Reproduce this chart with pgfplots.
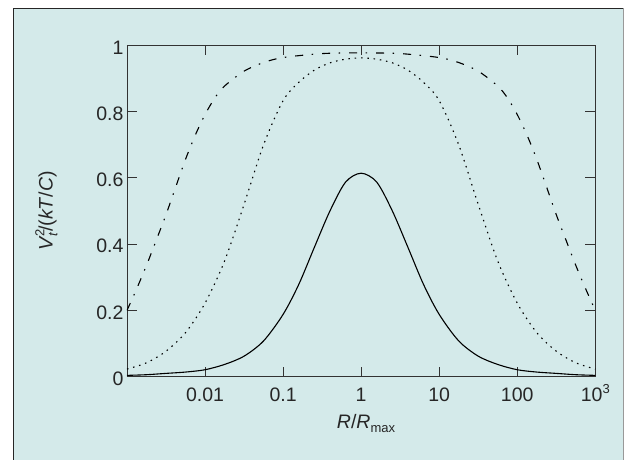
\documentclass[border=0pt]{standalone}
\usepackage{fontspec}
\setmainfont{Liberation Sans}
\usepackage{pgfplots}
\pgfplotsset{compat=1.18}
\definecolor{bgcyan}{RGB}{212,234,234}
\newcommand{\bigf}{\fontsize{19.5}{23}\selectfont}
\newcommand{\smf}{\fontsize{13}{13}\selectfont}
\begin{document}
\begin{tikzpicture}
\useasboundingbox (0pt,0pt) rectangle (624pt,460pt);
\fill[white] (0pt,0pt) rectangle (624pt,460pt);
\fill[bgcyan] (13.3pt,-5pt) rectangle (630pt,451.7pt);
\draw[black!85, line width=1.2pt] (13.3pt,-5pt) -- (13.3pt,451.7pt) -- (623pt,451.7pt);
\draw[black!40, line width=0.8pt] (623.4pt,451.7pt) -- (623.4pt,-5pt);
\begin{axis}[
  at={(127pt,83.3pt)}, anchor=south west,
  scale only axis, width=468.3pt, height=331.4pt,
  xmode=log, xmin=0.001, xmax=1000, ymin=0, ymax=1,
  xminorticks=false, yminorticks=false,
  axis line style={black!80, line width=0.9pt},
  every tick/.style={black!80, line width=0.9pt},
  tick align=inside, major tick length=10pt,
  xtick={0.01,0.1,1,10,100,1000},
  xticklabels={0.01,0.1,1,10,100,10\raisebox{0.75ex}{\smf 3}},
  ytick={0,0.2,0.4,0.6,0.8,1},
  yticklabels={0,0.2,0.4,0.6,0.8,1},
  /pgf/number format/assume math mode=true,
  tick label style={font=\bigf, text=black!85},
  xticklabel style={anchor=base, yshift=-25pt},
  yticklabel style={yshift=-2pt},
  label style={font=\bigf, text=black!85},
  xlabel={\textit{R}/\textit{R}\raisebox{-0.45ex}{\smf max}},
  xlabel style={at={(axis description cs:0.5104,-0.1557)}, anchor=base},
  ylabel={\textit{V}\makebox[0pt][l]{\raisebox{0.8ex}{\smf 2}}\raisebox{-0.45ex}{\smf\itshape t}\hspace{1pt}/(\textit{kT}/\textit{C})},
  ylabel style={at={(axis description cs:-0.172,0.5)}, anchor=center},
  clip=true,
]
% solid
\addplot[black, line width=1.1pt, smooth] coordinates {
(0.001,0.004) (0.001778,0.006) (0.003162,0.010) (0.005623,0.014) (0.01,0.021)
(0.01778,0.037) (0.03162,0.062) (0.05623,0.108) (0.1,0.188) (0.1585,0.278)
(0.2512,0.390) (0.3981,0.500) (0.631,0.587) (1,0.614) (1.585,0.587)
(2.512,0.500) (3.981,0.390) (6.31,0.278) (10,0.188) (17.78,0.108)
(31.62,0.062) (56.23,0.037) (100,0.021) (177.8,0.014) (316.2,0.010)
(562.3,0.006) (1000,0.004)
};
% dotted
\addplot[black, line width=1.1pt, smooth, dash pattern=on 1.5pt off 4.8pt] coordinates {
(0.001,0.023) (0.001778,0.042) (0.003162,0.077) (0.005623,0.133) (0.01,0.222)
(0.01778,0.349) (0.03162,0.520) (0.05623,0.700) (0.1,0.833) (0.1585,0.888)
(0.2512,0.925) (0.3981,0.947) (0.631,0.958) (1,0.962) (1.585,0.958)
(2.512,0.947) (3.981,0.925) (6.31,0.888) (10,0.833) (17.78,0.700)
(31.62,0.520) (56.23,0.349) (100,0.222) (177.8,0.133) (316.2,0.077)
(562.3,0.042) (1000,0.023)
};
% dash-dot
\addplot[black, line width=1.1pt, smooth, dash pattern=on 8pt off 8.5pt on 1.5pt off 9pt] coordinates {
(0.001,0.200) (0.001334,0.266) (0.001778,0.336) (0.002371,0.412) (0.003162,0.489)
(0.004217,0.573) (0.005623,0.656) (0.007499,0.729) (0.01,0.791) (0.01334,0.841)
(0.01778,0.877) (0.03162,0.922) (0.05623,0.948) (0.1,0.963) (0.3162,0.975)
(1,0.977) (3.162,0.975) (10,0.963) (17.78,0.948) (31.62,0.922)
(56.23,0.877) (74.99,0.841) (100,0.791) (133.4,0.729) (177.8,0.656)
(237.1,0.573) (316.2,0.489) (421.7,0.412) (562.3,0.336) (749.9,0.266)
(1000,0.200)
};
\end{axis}
\end{tikzpicture}
\end{document}
